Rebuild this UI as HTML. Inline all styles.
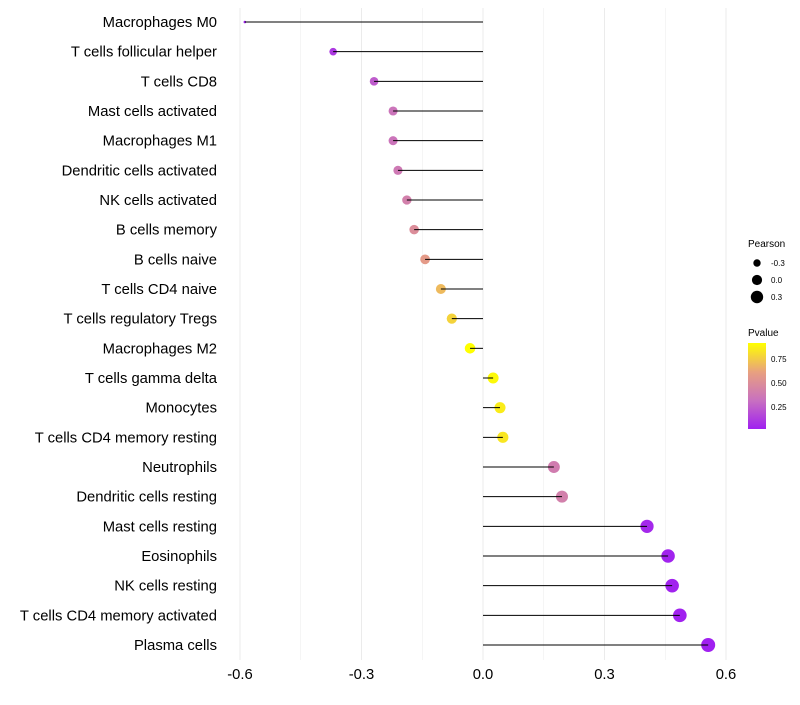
<!DOCTYPE html>
<html><head><meta charset="utf-8"><style>
body{margin:0;background:#fff;font-family:"Liberation Sans",sans-serif}
</style></head><body>
<svg id="chart" width="800" height="700" xmlns="http://www.w3.org/2000/svg">
<defs><linearGradient id="pg" x1="0" y1="1" x2="0" y2="0">
<stop offset="0" stop-color="#a020f0"/><stop offset="0.33" stop-color="#c870c0"/><stop offset="0.66" stop-color="#e8a080"/><stop offset="1" stop-color="#ffff00"/></linearGradient></defs>
<g id="grid"></g><g id="marks"></g><g id="labels"></g>
<g font-size="10">
<text x="748" y="247" fill="#000">Pearson</text>
<circle cx="757" cy="263" r="3.7" fill="#000"/><text x="771" y="266" font-size="8">-0.3</text>
<circle cx="757" cy="280" r="5.1" fill="#000"/><text x="771" y="283" font-size="8">0.0</text>
<circle cx="757" cy="297" r="6.2" fill="#000"/><text x="771" y="300" font-size="8">0.3</text>
<text x="748" y="336">Pvalue</text>
<rect x="748" y="343" width="18" height="86" fill="url(#pg)"/>
<text x="771" y="362" font-size="8">0.75</text><text x="771" y="386" font-size="8">0.50</text><text x="771" y="410" font-size="8">0.25</text>
</g>
</svg>
<script>
const categories=["Macrophages M0","T cells follicular helper","T cells CD8","Mast cells activated","Macrophages M1","Dendritic cells activated","NK cells activated","B cells memory","B cells naive","T cells CD4 naive","T cells regulatory  Tregs ","Macrophages M2","T cells gamma delta","Monocytes","T cells CD4 memory resting","Neutrophils","Dendritic cells resting","Mast cells resting","Eosinophils","NK cells resting","T cells CD4 memory activated","Plasma cells"];
const pearson=[-0.588,-0.37,-0.269,-0.222,-0.222,-0.21,-0.188,-0.17,-0.143,-0.104,-0.077,-0.032,0.025,0.042,0.049,0.175,0.195,0.405,0.457,0.467,0.486,0.556];
const pvalue=[0.03,0.12,0.25,0.35,0.35,0.38,0.42,0.5,0.58,0.7,0.78,0.92,0.9,0.86,0.84,0.4,0.42,0.06,0.04,0.04,0.035,0.03];
const xTicks=[-0.6,-0.3,0,0.3,0.6];
const xTickLabels=["-0.6","-0.3","0.0","0.3","0.6"];
const NS="http://www.w3.org/2000/svg";
const xs=v=>483+v*405;
const ys=i=>22+i*(623/(categories.length-1));
function mk(t,a,p){const e=document.createElementNS(NS,t);for(const k in a)e.setAttribute(k,a[k]);p.appendChild(e);return e;}
const grid=document.getElementById('grid'),marks=document.getElementById('marks'),labels=document.getElementById('labels');
const stops=[[0,[160,32,240]],[0.33,[200,112,192]],[0.66,[232,160,128]],[1,[255,255,0]]];
function col(p){let t=(p-0.03)/(0.92-0.03);t=Math.max(0,Math.min(1,t));for(let i=0;i<3;i++){const a=stops[i],b=stops[i+1];if(t<=b[0]){const f=(t-a[0])/(b[0]-a[0]);return 'rgb('+a[1].map((c,j)=>Math.round(c+(b[1][j]-c)*f)).join(',')+')';}}return 'rgb(255,255,0)';}
const mn=Math.min(...pearson),mx=Math.max(...pearson);
function rad(v){const t=(v-mn)/(mx-mn);return 1.3+Math.sqrt(t)*5.7;}
for(let k=-0.6;k<=0.61;k+=0.15){const g=mk('line',{x1:xs(k),x2:xs(k),y1:8,y2:660,stroke:'#ebebeb','stroke-width':Math.abs((k/0.3)-Math.round(k/0.3))<0.01?1:0.5},grid);}
xTicks.forEach((v,i)=>{const t=mk('text',{x:xs(v),y:679,'text-anchor':'middle','font-size':14.8,fill:'#000'},labels);t.textContent=xTickLabels[i];});
categories.forEach((c,i)=>{
const y=ys(i);
const t=mk('text',{x:217,y:y+5,'text-anchor':'end','font-size':14.8,fill:'#000'},labels);t.textContent=c;

const d=mk('circle',{cx:xs(pearson[i]),cy:y,r:rad(pearson[i]),fill:col(pvalue[i])},marks);

const l=mk('line',{x1:xs(0),x2:xs(pearson[i]),y1:y,y2:y,stroke:'#000','stroke-width':1},marks);

});
</script>
</body></html>
